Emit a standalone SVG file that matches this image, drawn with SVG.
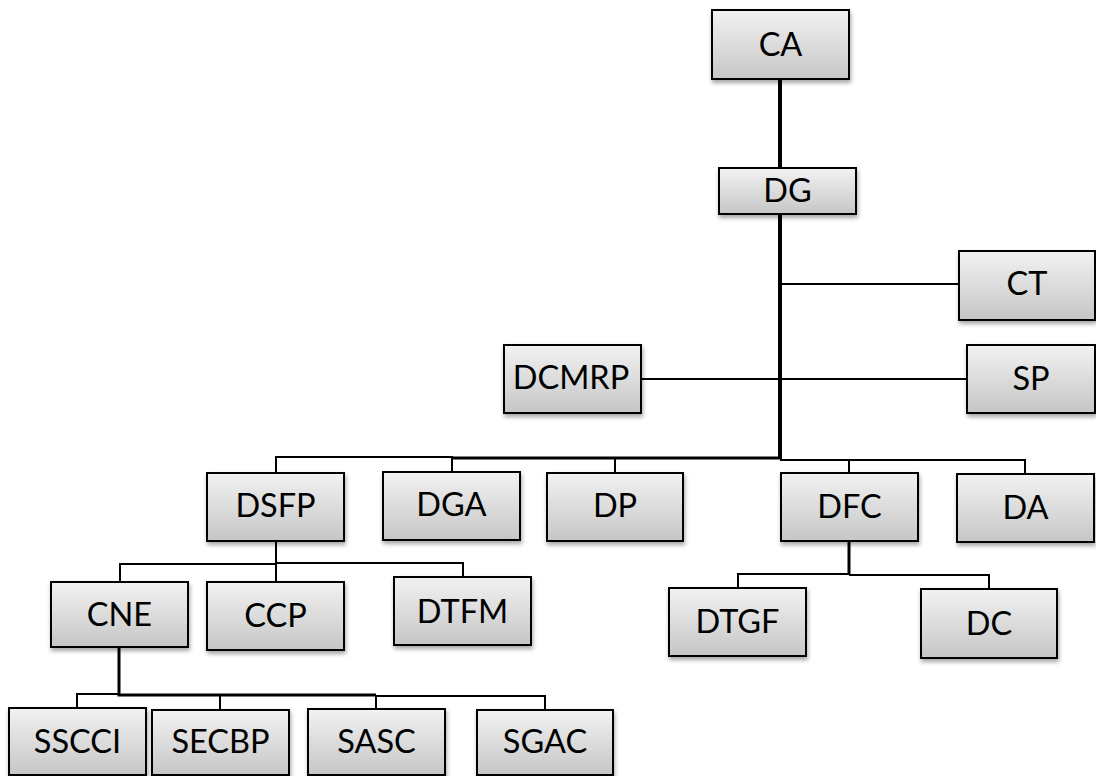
<svg xmlns="http://www.w3.org/2000/svg" width="1096" height="776" viewBox="0 0 1096 776">
<defs>
<linearGradient id="g" x1="0" y1="0" x2="0" y2="1">
<stop offset="0" stop-color="#f2f2f2"/>
<stop offset="1" stop-color="#c6c6c6"/>
</linearGradient>
<filter id="sh" x="-10%" y="-10%" width="130%" height="140%">
<feDropShadow dx="1" dy="3" stdDeviation="2" flood-color="#000" flood-opacity="0.35"/>
</filter>
</defs>
<style>
.b{fill:url(#g);stroke:#000;stroke-width:2;filter:url(#sh)}
.t{font-family:Lato,"Open Sans",sans-serif;font-size:32.5px;fill:#000;text-anchor:middle}
.thin{fill:none;stroke:#000;stroke-width:2}
.thick{fill:none;stroke:#000;stroke-width:4}
.mid{fill:none;stroke:#000;stroke-width:3}
</style>
<rect width="1096" height="776" fill="#fff"/>
<g id="connectors">
<path class="thick" d="M780,79 V168 M780,214 V459"/>
<path class="thin" d="M780,284 H959"/>
<path class="thin" d="M641,379 H967"/>
<path class="mid" d="M452,458 H782"/>
<path class="thin" d="M276,473 V457 H452 V472"/>
<path class="thin" d="M615,458 V473"/>
<path class="thin" d="M780,460 H1025 V474 M849,460 V473"/>
<path class="mid" d="M849,541 V575"/>
<path class="thin" d="M738,588 V574 H849 M849,575 H989 V589"/>
<path class="thin" d="M276,541 V582"/>
<path class="thin" d="M120,582 V564 H276 M276,563 H463 V577"/>
<path class="mid" d="M119,647 V695 H376"/>
<path class="thin" d="M77,708 V694 H119 M220,710 V695 M376,709 V696 H545 V710"/>
</g>
<g id="CA"><rect class="b" x="712" y="10" width="137" height="69"/><text class="t" x="780.5" y="55.5">CA</text></g>
<g id="DG"><rect class="b" x="719" y="168" width="137" height="46"/><text class="t" x="787.5" y="202">DG</text></g>
<g id="CT"><rect class="b" x="959" y="251" width="136" height="69"/><text class="t" x="1027" y="295">CT</text></g>
<g id="DCMRP"><rect class="b" x="504" y="345" width="137" height="68"/><text class="t" x="571" y="389">DCMRP</text></g>
<g id="SP"><rect class="b" x="967" y="345" width="128" height="68"/><text class="t" x="1031" y="390">SP</text></g>
<g id="DSFP"><rect class="b" x="207" y="473" width="137" height="68"/><text class="t" x="275.5" y="517">DSFP</text></g>
<g id="DGA"><rect class="b" x="383" y="472" width="137" height="68"/><text class="t" x="451.5" y="516">DGA</text></g>
<g id="DP"><rect class="b" x="547" y="473" width="136" height="68"/><text class="t" x="615" y="517">DP</text></g>
<g id="DFC"><rect class="b" x="781" y="473" width="137" height="68"/><text class="t" x="849.5" y="518">DFC</text></g>
<g id="DA"><rect class="b" x="957" y="474" width="137" height="68"/><text class="t" x="1025.5" y="519">DA</text></g>
<g id="CNE"><rect class="b" x="51" y="582" width="137" height="65"/><text class="t" x="119.5" y="626">CNE</text></g>
<g id="CCP"><rect class="b" x="207" y="582" width="137" height="68"/><text class="t" x="275.5" y="627">CCP</text></g>
<g id="DTFM"><rect class="b" x="394" y="577" width="137" height="68"/><text class="t" x="462.5" y="623">DTFM</text></g>
<g id="DTGF"><rect class="b" x="669" y="588" width="137" height="68"/><text class="t" x="737.5" y="633">DTGF</text></g>
<g id="DC"><rect class="b" x="921" y="589" width="136" height="69"/><text class="t" x="989" y="635">DC</text></g>
<g id="SSCCI"><rect class="b" x="9" y="708" width="137" height="67"/><text class="t" x="77.5" y="753">SSCCI</text></g>
<g id="SECBP"><rect class="b" x="152" y="710" width="137" height="65"/><text class="t" x="220.5" y="753">SECBP</text></g>
<g id="SASC"><rect class="b" x="308" y="709" width="137" height="66"/><text class="t" x="376.5" y="753">SASC</text></g>
<g id="SGAC"><rect class="b" x="477" y="710" width="136" height="65"/><text class="t" x="545" y="753">SGAC</text></g>
</svg>
